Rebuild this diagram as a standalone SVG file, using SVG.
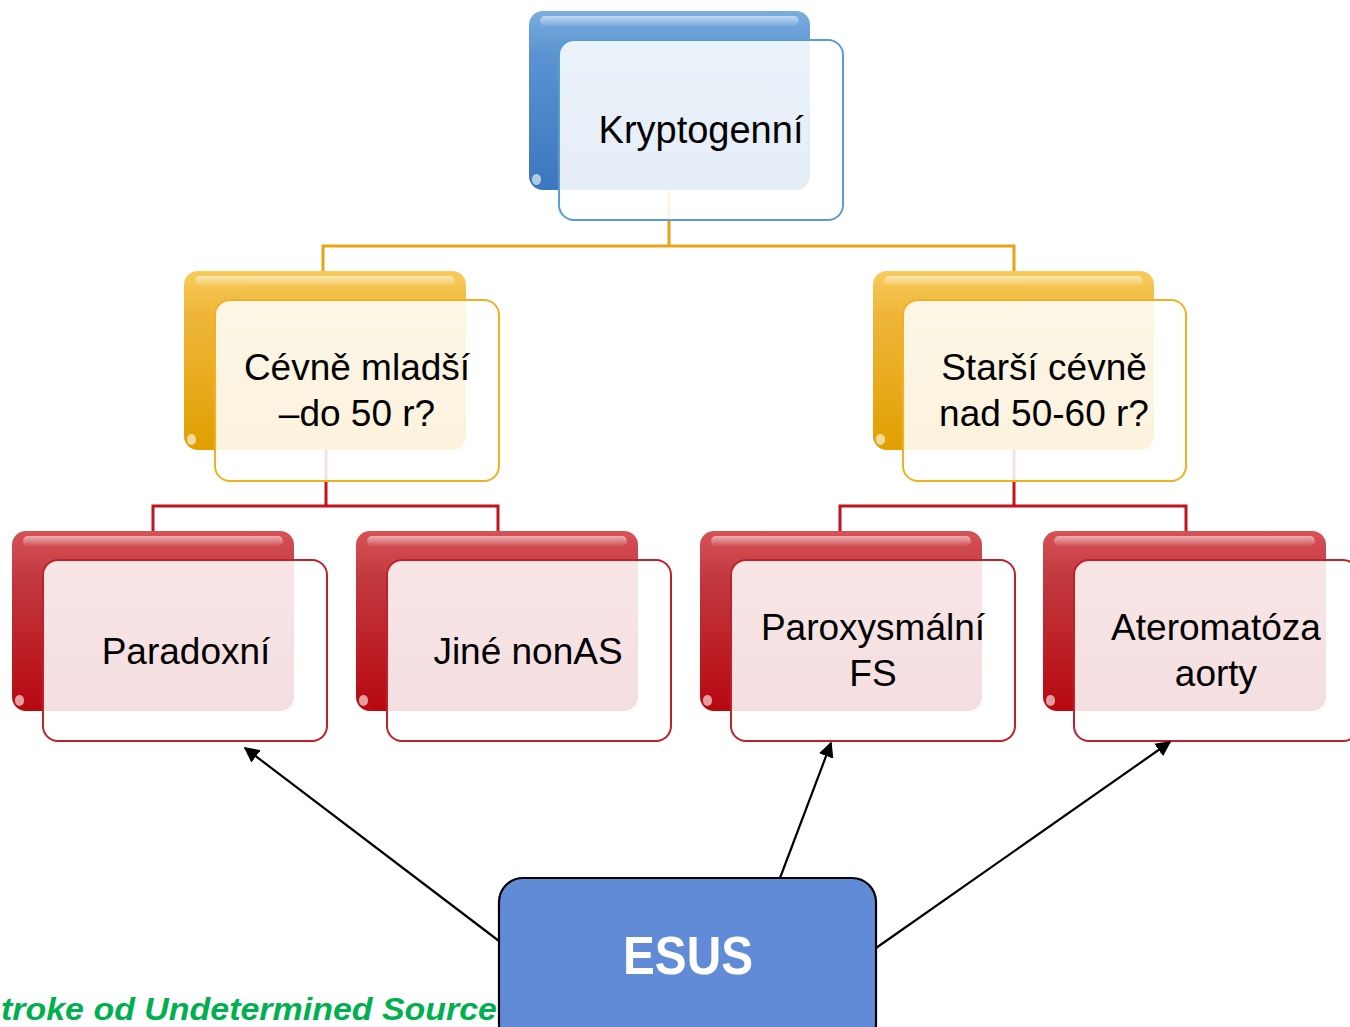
<svg xmlns="http://www.w3.org/2000/svg" width="1350" height="1027" viewBox="0 0 1350 1027">
<defs>
<linearGradient id="gBlue" x1="0" y1="0" x2="0" y2="1">
<stop offset="0" stop-color="#79addf"/><stop offset="0.25" stop-color="#5a93d0"/><stop offset="1" stop-color="#3b77bf"/>
</linearGradient>
<linearGradient id="gYel" x1="0" y1="0" x2="0" y2="1">
<stop offset="0" stop-color="#f8cb5a"/><stop offset="0.25" stop-color="#efb53a"/><stop offset="1" stop-color="#e0a000"/>
</linearGradient>
<linearGradient id="gRed" x1="0" y1="0" x2="0" y2="1">
<stop offset="0" stop-color="#d65257"/><stop offset="0.25" stop-color="#c23a40"/><stop offset="1" stop-color="#b8080f"/>
</linearGradient>
<linearGradient id="gShine" x1="0" y1="0" x2="0" y2="1">
<stop offset="0" stop-color="#ffffff" stop-opacity="0.55"/><stop offset="1" stop-color="#ffffff" stop-opacity="0.05"/>
</linearGradient>
<marker id="arrB" viewBox="0 0 10 10" refX="9" refY="5" markerWidth="7" markerHeight="7" orient="auto">
<path d="M0,0 L10,5 L0,10 z" fill="#000"/>
</marker>
</defs>
<style>
.lbl{font-family:"Liberation Sans",Arial,sans-serif;font-size:37px;fill:#000;text-anchor:middle}
.front{fill:#ffffff;fill-opacity:0.87;stroke-width:2}
.shine{fill:url(#gShine)}
.glint{fill:#ffffff;fill-opacity:0.6}
.cY{fill:none;stroke:#e8a317;stroke-width:3}
.cR{fill:none;stroke:#c0151f;stroke-width:3}
.arrow{fill:none;stroke:#000;stroke-width:2.2;marker-end:url(#arrB)}
</style>
<rect x="0" y="0" width="1350" height="1027" fill="#ffffff"/>

<g id="connectors">
<path class="cY" d="M669,190 V246 M323,272 V246 H1014 V272"/>
<path class="cR" d="M326,450 V506 M153,532 V506 H498 V532"/>
<path class="cR" d="M1014,450 V506 M840,532 V506 H1186 V532"/>
</g>

<g id="green-note">
<text x="1" y="1020" font-family="Liberation Sans,Arial,sans-serif" font-size="32" font-weight="bold" font-style="italic" fill="#00b050" textLength="496" lengthAdjust="spacingAndGlyphs">troke od Undetermined Source</text>
</g>

<g id="node-kryptogenni">
<rect x="529" y="11" width="281" height="179" rx="14" fill="url(#gBlue)"/>
<rect x="540" y="16" width="259" height="10" rx="5" class="shine"/>
<rect x="532" y="174" width="9" height="11" rx="5" class="glint"/>
<rect x="559" y="40" width="284" height="180" rx="15" class="front" stroke="#5b9bd5"/>
<text class="lbl" x="701" y="143" style="font-size:38px">Kryptogenní</text>
</g>

<g id="node-cevne-mladsi">
<rect x="184" y="271" width="282" height="179" rx="14" fill="url(#gYel)"/>
<rect x="195" y="276" width="260" height="10" rx="5" class="shine"/>
<rect x="187" y="434" width="9" height="11" rx="5" class="glint"/>
<rect x="215" y="300" width="284" height="181" rx="15" class="front" stroke="#f0b020"/>
<text class="lbl" x="357" y="380">Cévně mladší</text>
<text class="lbl" x="357" y="426">–do 50 r?</text>
</g>

<g id="node-starsi-cevne">
<rect x="873" y="271" width="281" height="179" rx="14" fill="url(#gYel)"/>
<rect x="884" y="276" width="259" height="10" rx="5" class="shine"/>
<rect x="876" y="434" width="9" height="11" rx="5" class="glint"/>
<rect x="903" y="300" width="283" height="181" rx="15" class="front" stroke="#f0b020"/>
<text class="lbl" x="1044" y="380">Starší cévně</text>
<text class="lbl" x="1044" y="426">nad 50-60 r?</text>
</g>

<g id="node-paradoxni">
<rect x="12" y="531" width="282" height="180" rx="14" fill="url(#gRed)"/>
<rect x="23" y="536" width="260" height="10" rx="5" class="shine"/>
<rect x="15" y="695" width="9" height="11" rx="5" class="glint"/>
<rect x="43" y="560" width="284" height="181" rx="15" class="front" stroke="#c0202a"/>
<text class="lbl" x="186" y="664">Paradoxní</text>
</g>

<g id="node-jine-nonas">
<rect x="356" y="531" width="282" height="180" rx="14" fill="url(#gRed)"/>
<rect x="367" y="536" width="260" height="10" rx="5" class="shine"/>
<rect x="359" y="695" width="9" height="11" rx="5" class="glint"/>
<rect x="387" y="560" width="284" height="181" rx="15" class="front" stroke="#c0202a"/>
<text class="lbl" x="528" y="664">Jiné nonAS</text>
</g>

<g id="node-paroxysmalni-fs">
<rect x="700" y="531" width="282" height="180" rx="14" fill="url(#gRed)"/>
<rect x="711" y="536" width="260" height="10" rx="5" class="shine"/>
<rect x="703" y="695" width="9" height="11" rx="5" class="glint"/>
<rect x="731" y="560" width="284" height="181" rx="15" class="front" stroke="#c0202a"/>
<text class="lbl" x="873" y="640">Paroxysmální</text>
<text class="lbl" x="873" y="686">FS</text>
</g>

<g id="node-ateromatoza">
<rect x="1043" y="531" width="283" height="180" rx="14" fill="url(#gRed)"/>
<rect x="1054" y="536" width="261" height="10" rx="5" class="shine"/>
<rect x="1046" y="695" width="9" height="11" rx="5" class="glint"/>
<rect x="1074" y="560" width="284" height="181" rx="15" class="front" stroke="#c0202a"/>
<text class="lbl" x="1216" y="640">Ateromatóza</text>
<text class="lbl" x="1216" y="686">aorty</text>
</g>

<g id="arrows">
<line class="arrow" x1="499" y1="941" x2="245" y2="748"/>
<line class="arrow" x1="780" y1="878" x2="831" y2="743"/>
<line class="arrow" x1="876" y1="948" x2="1170" y2="742"/>
</g>

<g id="node-esus">
<rect x="499" y="878" width="377" height="170" rx="24" fill="#628bd7" stroke="#000" stroke-width="2.2"/>
<text x="688" y="974" text-anchor="middle" font-family="Liberation Sans,Arial,sans-serif" font-size="54" font-weight="bold" fill="#ffffff" textLength="130" lengthAdjust="spacingAndGlyphs">ESUS</text>
</g>
</svg>
